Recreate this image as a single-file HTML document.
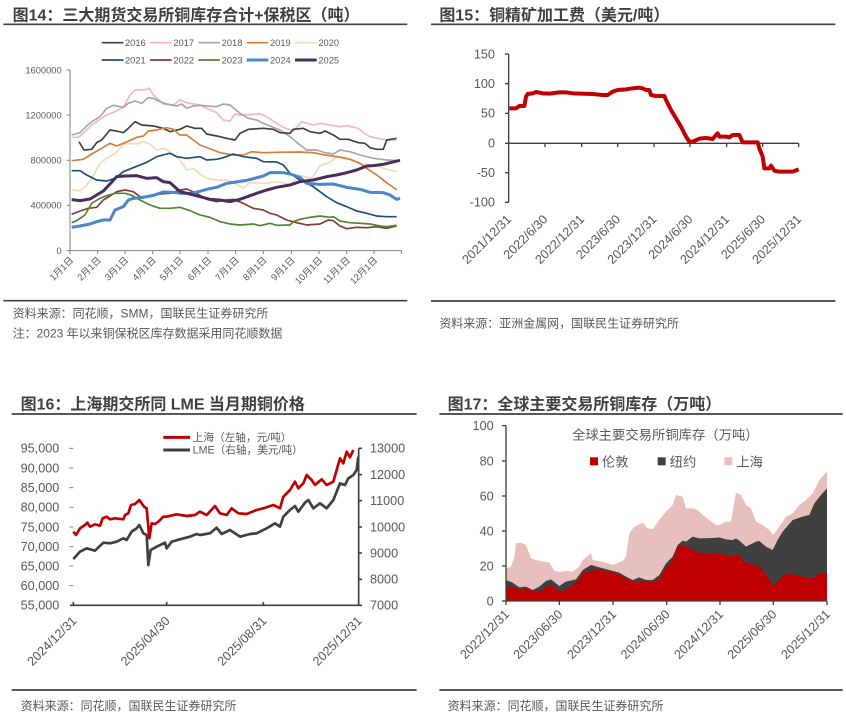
<!DOCTYPE html>
<html><head><meta charset="utf-8"><style>
html,body{margin:0;padding:0;background:#fff;}
svg{display:block;font-family:"Liberation Sans","Noto Sans CJK SC",sans-serif;}
.t{font-size:48px;font-weight:bold;fill:#404040;}
.s{font-size:36px;fill:#595959;}
.a{font-size:28px;fill:#595959;}
.b{font-size:38px;fill:#595959;}
</style></head><body>
<svg width="846" height="717" viewBox="0 0 846 717" xmlns="http://www.w3.org/2000/svg">
<!-- Panel 1 -->
<g transform="scale(0.33333)">
<text class="t" x="38" y="62">图14：三大期货交易所铜库存合计+保税区（吨）</text>
<line x1="10" y1="73" x2="1222" y2="73" stroke="#404040" stroke-width="5"/>
<g class="a" font-size="28">
<line x1="305" y1="128" x2="370" y2="128" stroke="#404040" stroke-width="5"/><text x="375" y="138" class="a">2016</text>
<line x1="450" y1="128" x2="515" y2="128" stroke="#f2b8c6" stroke-width="5"/><text x="520" y="138" class="a">2017</text>
<line x1="595" y1="128" x2="660" y2="128" stroke="#a6a6a6" stroke-width="5"/><text x="665" y="138" class="a">2018</text>
<line x1="740" y1="128" x2="805" y2="128" stroke="#d97b3a" stroke-width="5"/><text x="810" y="138" class="a">2019</text>
<line x1="885" y1="128" x2="950" y2="128" stroke="#f4d9b5" stroke-width="5"/><text x="955" y="138" class="a">2020</text>
<line x1="305" y1="180" x2="370" y2="180" stroke="#1f4e79" stroke-width="5"/><text x="375" y="190" class="a">2021</text>
<line x1="450" y1="180" x2="515" y2="180" stroke="#843c39" stroke-width="5"/><text x="520" y="190" class="a">2022</text>
<line x1="595" y1="180" x2="660" y2="180" stroke="#548235" stroke-width="5"/><text x="665" y="190" class="a">2023</text>
<line x1="740" y1="180" x2="805" y2="180" stroke="#4a86c8" stroke-width="9"/><text x="810" y="190" class="a">2024</text>
<line x1="885" y1="180" x2="950" y2="180" stroke="#4b2c5e" stroke-width="9"/><text x="955" y="190" class="a">2025</text>
</g>
<g class="a" text-anchor="end">
<text x="185" y="220">1600000</text><text x="185" y="355">1200000</text><text x="185" y="491">800000</text><text x="185" y="626">400000</text><text x="185" y="762">0</text>
</g>
<g stroke="#808080" stroke-width="3">
<line x1="210" y1="210" x2="210" y2="752"/><line x1="210" y1="752" x2="1205" y2="752"/>
<line x1="200" y1="210" x2="210" y2="210"/><line x1="200" y1="345" x2="210" y2="345"/><line x1="200" y1="481" x2="210" y2="481"/><line x1="200" y1="616" x2="210" y2="616"/><line x1="200" y1="752" x2="210" y2="752"/>
<line x1="210" y1="752" x2="210" y2="762"/><line x1="293" y1="752" x2="293" y2="762"/><line x1="375" y1="752" x2="375" y2="762"/><line x1="458" y1="752" x2="458" y2="762"/><line x1="540" y1="752" x2="540" y2="762"/><line x1="624" y1="752" x2="624" y2="762"/><line x1="707" y1="752" x2="707" y2="762"/><line x1="790" y1="752" x2="790" y2="762"/><line x1="874" y1="752" x2="874" y2="762"/><line x1="957" y1="752" x2="957" y2="762"/><line x1="1040" y1="752" x2="1040" y2="762"/><line x1="1122" y1="752" x2="1122" y2="762"/><line x1="1205" y1="752" x2="1205" y2="762"/>
</g>
<g class="a" text-anchor="end">
<text transform="translate(222,782) rotate(-45)">1月1日</text>
<text transform="translate(305,782) rotate(-45)">2月1日</text>
<text transform="translate(387,782) rotate(-45)">3月1日</text>
<text transform="translate(470,782) rotate(-45)">4月1日</text>
<text transform="translate(552,782) rotate(-45)">5月1日</text>
<text transform="translate(636,782) rotate(-45)">6月1日</text>
<text transform="translate(719,782) rotate(-45)">7月1日</text>
<text transform="translate(802,782) rotate(-45)">8月1日</text>
<text transform="translate(886,782) rotate(-45)">9月1日</text>
<text transform="translate(969,782) rotate(-45)">10月1日</text>
<text transform="translate(1052,782) rotate(-45)">11月1日</text>
<text transform="translate(1134,782) rotate(-45)">12月1日</text>
</g>
<g fill="none" stroke-linejoin="round" stroke-width="5">
<polyline stroke="#f4d9b5" points="215,570 240,572 255,562 275,535 300,490 320,475 345,460 375,430 410,432 430,425 450,432 470,450 490,445 510,455 540,480 560,510 580,505 600,522 620,535 650,540 680,540 705,550 730,565 750,548 800,550 830,545 870,553 900,527 935,535 960,497 990,487 1010,470 1040,472 1060,482 1090,492 1130,498 1160,508 1190,515"/>
<polyline stroke="#f2b8c6" points="215,412 235,412 250,400 275,375 300,358 320,345 345,335 370,322 390,285 405,270 420,270 440,268 448,264 460,285 490,312 520,315 540,300 560,308 580,312 600,315 620,325 650,338 670,360 690,363 705,342 720,345 780,342 800,350 830,370 850,382 880,393 905,365 940,375 960,370 990,375 1020,380 1040,377 1075,385 1090,398 1110,410 1160,420 1190,420"/>
<polyline stroke="#a6a6a6" points="215,405 240,398 260,378 275,365 300,350 320,325 340,316 370,322 385,310 405,303 425,310 445,293 460,295 480,305 500,312 530,318 545,312 560,325 580,318 600,316 620,318 650,320 670,312 690,315 720,340 745,355 770,360 790,370 810,378 840,390 870,410 900,435 920,450 950,450 975,458 1000,462 1020,450 1050,455 1080,465 1120,475 1160,480 1200,482"/>
<polyline stroke="#404040" points="237,425 252,450 275,448 290,428 305,420 330,390 350,393 370,398 385,385 405,365 425,375 460,378 490,385 510,395 540,388 560,378 585,385 605,385 620,402 650,408 680,415 705,420 720,400 745,388 790,385 820,388 840,398 870,400 880,388 910,385 930,395 960,400 975,393 1000,405 1020,418 1045,418 1075,428 1095,430 1110,443 1130,448 1150,448 1160,420 1190,415"/>
<polyline stroke="#d97b3a" points="215,482 250,478 270,465 300,448 330,430 350,438 375,428 410,412 430,408 445,393 470,390 500,383 520,388 540,405 560,405 600,435 640,450 660,458 700,465 730,465 755,455 790,458 830,457 900,456 940,458 970,464 1010,470 1050,478 1080,490 1100,505 1130,525 1160,548 1190,570"/>
<polyline stroke="#1f4e79" points="215,512 240,512 260,525 290,540 320,543 345,535 370,515 400,503 440,487 470,470 500,462 510,460 530,470 560,475 600,470 620,480 650,478 670,473 700,462 730,470 770,475 790,485 830,486 850,495 870,520 900,540 940,560 980,590 1010,608 1040,620 1070,633 1100,640 1130,648 1160,650 1190,650"/>
<polyline stroke="#843c39" points="215,643 240,633 265,625 290,622 310,600 330,588 350,575 375,570 400,575 420,590 450,590 480,582 510,580 540,570 560,567 590,580 620,598 650,605 680,600 700,598 730,610 760,625 790,630 810,640 830,645 860,660 890,668 920,675 960,672 985,660 1000,662 1020,678 1040,686 1070,682 1100,683 1130,680 1160,685 1190,678"/>
<polyline stroke="#548235" points="215,668 230,662 255,645 275,610 300,595 320,587 345,580 375,580 395,586 420,600 450,615 480,625 510,625 540,622 570,632 600,645 630,652 660,665 690,672 720,675 760,672 780,677 810,670 830,676 870,675 880,665 900,658 930,652 960,648 990,652 1000,650 1020,663 1050,668 1080,670 1110,672 1140,678 1160,680 1190,676"/>
<polyline stroke="#4a86c8" stroke-width="9" points="215,682 240,678 270,672 290,665 310,660 330,660 345,630 370,620 385,600 400,595 430,592 460,586 490,576 520,577 545,580 570,580 600,574 620,568 650,562 680,550 700,547 740,541 760,536 790,528 810,518 850,518 870,522 900,532 920,550 960,553 1000,552 1040,562 1080,568 1110,577 1150,578 1170,585 1190,598 1200,595"/>
<polyline stroke="#4b2c5e" stroke-width="9" points="215,599 240,602 270,597 290,585 310,573 330,552 350,530 375,528 410,527 440,535 470,533 490,545 510,548 540,575 570,582 600,590 630,598 660,600 690,605 720,598 750,587 770,580 800,570 830,562 870,555 900,545 940,540 980,530 1010,525 1040,518 1070,510 1100,498 1120,497 1150,493 1170,488 1200,481"/>
</g>
<line x1="10" y1="902" x2="1222" y2="902" stroke="#404040" stroke-width="5"/>
<text class="s" x="38" y="952">资料来源：同花顺，SMM，国联民生证券研究所</text>
<text class="s" x="38" y="1012">注：2023 年以来铜保税区库存数据采用同花顺数据</text>
</g>

<!-- Panel 2 -->
<g transform="translate(426,0) scale(0.33333)">
<text class="t" x="40" y="62">图15：铜精矿加工费（美元/吨）</text>
<line x1="15" y1="73" x2="1228" y2="73" stroke="#404040" stroke-width="5"/>
<g class="b" text-anchor="end">
<text x="207" y="175">150</text><text x="207" y="264">100</text><text x="207" y="353">50</text><text x="207" y="443">0</text><text x="207" y="531">-50</text><text x="207" y="620">-100</text>
</g>
<g stroke="#404040" stroke-width="4">
<line x1="248" y1="162" x2="248" y2="607"/>
<line x1="237" y1="162" x2="248" y2="162"/><line x1="237" y1="251" x2="248" y2="251"/><line x1="237" y1="340" x2="248" y2="340"/><line x1="237" y1="430" x2="248" y2="430"/><line x1="237" y1="518" x2="248" y2="518"/><line x1="237" y1="607" x2="248" y2="607"/>
<line x1="248" y1="430" x2="1118" y2="430"/>
<line x1="357" y1="430" x2="357" y2="441"/><line x1="467" y1="430" x2="467" y2="441"/><line x1="575" y1="430" x2="575" y2="441"/><line x1="684" y1="430" x2="684" y2="441"/><line x1="792" y1="430" x2="792" y2="441"/><line x1="902" y1="430" x2="902" y2="441"/><line x1="1010" y1="430" x2="1010" y2="441"/><line x1="1118" y1="430" x2="1118" y2="441"/>
</g>
<g class="b" text-anchor="end">
<text transform="translate(258,660) rotate(-45)">2021/12/31</text>
<text transform="translate(367,660) rotate(-45)">2022/6/30</text>
<text transform="translate(477,660) rotate(-45)">2022/12/31</text>
<text transform="translate(585,660) rotate(-45)">2023/6/30</text>
<text transform="translate(694,660) rotate(-45)">2023/12/31</text>
<text transform="translate(802,660) rotate(-45)">2024/6/30</text>
<text transform="translate(912,660) rotate(-45)">2024/12/31</text>
<text transform="translate(1020,660) rotate(-45)">2025/6/30</text>
<text transform="translate(1128,660) rotate(-45)">2025/12/31</text>
</g>
<polyline fill="none" stroke="#c00000" stroke-width="12" stroke-linejoin="round" points="250,325 270,325 280,318 295,318 300,290 305,282 320,280 330,276 350,280 370,281 400,277 420,277 440,280 500,282 530,285 545,285 560,275 575,270 600,268 620,265 640,263 650,265 660,270 670,270 675,285 690,288 715,288 720,300 735,330 750,355 765,380 780,410 790,425 800,425 820,416 840,414 860,417 870,405 875,400 880,410 900,410 910,412 920,405 940,405 950,427 995,427 1000,445 1010,470 1015,505 1030,505 1035,497 1045,512 1060,515 1100,515 1118,508"/>
<line x1="15" y1="903" x2="1228" y2="903" stroke="#404040" stroke-width="5"/>
<text class="s" x="40" y="982">资料来源：亚洲金属网，国联民生证券研究所</text>
</g>

<!-- Panel 3 -->
<g transform="translate(0,380) scale(0.33333)">
<text class="t" x="62" y="88">图16：上海期交所同 LME 当月期铜价格</text>
<line x1="35" y1="102" x2="1250" y2="102" stroke="#404040" stroke-width="5"/>
<line x1="490" y1="172" x2="570" y2="172" stroke="#c00000" stroke-width="9"/>
<text x="578" y="183" font-size="32" fill="#595959">上海（左轴，元/吨）</text>
<line x1="490" y1="210" x2="570" y2="210" stroke="#404040" stroke-width="9"/>
<text x="578" y="221" font-size="32" fill="#595959">LME（右轴，美元/吨）</text>
<g class="b" font-size="36" text-anchor="end">
<text x="178" y="218">95,000</text><text x="178" y="277">90,000</text><text x="178" y="336">85,000</text><text x="178" y="395">80,000</text><text x="178" y="454">75,000</text><text x="178" y="513">70,000</text><text x="178" y="571">65,000</text><text x="178" y="630">60,000</text><text x="178" y="689">55,000</text>
</g>
<g class="b" font-size="36">
<text x="1110" y="218">13000</text><text x="1110" y="297">12000</text><text x="1110" y="375">11000</text><text x="1110" y="454">10000</text><text x="1110" y="532">9000</text><text x="1110" y="611">8000</text><text x="1110" y="689">7000</text>
</g>
<g stroke="#808080" stroke-width="3">
<line x1="208" y1="205" x2="220" y2="205"/><line x1="208" y1="264" x2="220" y2="264"/><line x1="208" y1="323" x2="220" y2="323"/><line x1="208" y1="382" x2="220" y2="382"/><line x1="208" y1="441" x2="220" y2="441"/><line x1="208" y1="500" x2="220" y2="500"/><line x1="208" y1="558" x2="220" y2="558"/><line x1="208" y1="617" x2="220" y2="617"/>
</g>
<g stroke="#404040" stroke-width="5">
<line x1="210" y1="676" x2="1076" y2="676"/>
<line x1="1076" y1="205" x2="1076" y2="676"/>
<line x1="1076" y1="205" x2="1086" y2="205"/><line x1="1076" y1="284" x2="1086" y2="284"/><line x1="1076" y1="362" x2="1086" y2="362"/><line x1="1076" y1="441" x2="1086" y2="441"/><line x1="1076" y1="519" x2="1086" y2="519"/><line x1="1076" y1="598" x2="1086" y2="598"/><line x1="1076" y1="676" x2="1086" y2="676"/>
<line x1="220" y1="666" x2="220" y2="676"/><line x1="500" y1="666" x2="500" y2="676"/><line x1="790" y1="666" x2="790" y2="676"/>
</g>
<g class="b" font-size="36" text-anchor="end">
<text transform="translate(232,725) rotate(-45)">2024/12/31</text>
<text transform="translate(512,725) rotate(-45)">2025/04/30</text>
<text transform="translate(802,725) rotate(-45)">2025/08/31</text>
<text transform="translate(1088,725) rotate(-45)">2025/12/31</text>
</g>
<g fill="none" stroke-width="8" stroke-linejoin="round">
<polyline stroke="#c00000" points="220,455 228,465 240,445 255,435 262,428 270,440 285,433 300,437 308,415 320,410 330,418 345,415 370,418 375,405 385,400 393,375 405,372 418,360 425,370 432,380 440,385 448,475 455,430 465,432 475,425 490,410 500,410 530,403 560,408 585,405 600,395 620,405 645,378 660,400 680,405 695,385 715,400 740,402 770,390 790,385 820,375 840,385 850,350 870,330 885,305 895,325 910,310 920,285 935,300 945,315 965,298 980,315 1000,305 1010,270 1020,235 1030,250 1040,215 1050,232 1060,210"/>
<polyline stroke="#404040" points="220,537 240,515 260,505 285,512 310,488 330,490 350,485 370,475 380,480 395,455 410,445 418,435 430,460 440,465 445,555 452,510 470,500 495,488 500,505 515,485 540,478 570,470 590,462 600,465 630,460 650,443 665,462 690,450 720,470 750,462 770,460 800,445 825,430 840,440 850,410 870,390 885,378 895,395 915,368 925,360 940,385 960,370 980,385 1000,360 1020,310 1035,315 1045,295 1060,285 1070,270 1075,230"/>
</g>
<line x1="35" y1="930" x2="1250" y2="930" stroke="#404040" stroke-width="5"/>
<text class="s" x="62" y="990">资料来源：同花顺，国联民生证券研究所</text>
</g>

<!-- Panel 4 -->
<g transform="translate(426,380) scale(0.33333)">
<text class="t" x="65" y="88">图17：全球主要交易所铜库存（万吨）</text>
<line x1="40" y1="102" x2="1250" y2="102" stroke="#404040" stroke-width="5"/>
<polygon fill="#e8bfbf" points="240,663 240,565 255,560 265,533 270,490 285,488 300,495 315,535 340,543 370,548 385,573 400,576 420,573 440,575 460,560 470,540 495,520 500,540 540,548 560,555 590,543 600,530 610,460 625,440 650,428 665,445 680,447 700,420 720,395 740,375 750,345 770,350 780,385 800,385 815,390 830,405 850,420 870,435 880,435 900,425 915,425 930,338 945,345 960,375 975,385 990,425 1010,435 1030,450 1042,465 1060,440 1080,410 1100,400 1120,375 1140,360 1160,340 1180,300 1203,275 1203,663"/>
<polygon fill="#404040" points="240,663 240,600 260,608 280,622 300,620 320,630 340,620 360,603 375,598 400,618 420,605 450,598 470,570 495,555 520,562 550,570 580,578 600,590 620,600 640,592 660,600 680,600 700,585 720,550 740,530 755,495 770,482 780,485 800,470 820,475 860,474 880,472 900,478 920,480 930,475 940,482 960,500 990,485 1000,483 1020,500 1040,510 1055,480 1070,455 1100,420 1130,410 1150,405 1165,370 1185,345 1203,325 1203,663"/>
<polygon fill="#c00000" points="240,663 240,620 260,622 280,628 300,625 320,630 335,638 350,628 370,615 385,622 400,633 420,630 440,618 460,598 470,580 495,572 520,570 550,575 580,585 600,595 620,605 640,605 660,602 680,608 700,598 715,570 740,540 755,500 770,495 790,505 820,518 860,522 880,520 900,525 920,528 930,522 940,530 960,550 990,555 1010,570 1030,600 1042,618 1060,600 1075,583 1100,583 1130,590 1160,595 1180,578 1203,582 1203,663"/>
<text x="718" y="178" font-size="40" fill="#595959" text-anchor="middle">全球主要交易所铜库存（万吨）</text>
<rect x="492" y="232" width="24" height="24" fill="#c00000"/><text x="528" y="260" font-size="40" fill="#595959">伦敦</text>
<rect x="695" y="232" width="24" height="24" fill="#404040"/><text x="731" y="260" font-size="40" fill="#595959">纽约</text>
<rect x="895" y="232" width="24" height="24" fill="#e8bfbf"/><text x="931" y="260" font-size="40" fill="#595959">上海</text>
<g class="b" text-anchor="end">
<text x="203" y="150">100</text><text x="203" y="256">80</text><text x="203" y="361">60</text><text x="203" y="466">40</text><text x="203" y="571">20</text><text x="203" y="676">0</text>
</g>
<g stroke="#404040" stroke-width="4">
<line x1="240" y1="137" x2="240" y2="663"/>
<line x1="228" y1="137" x2="240" y2="137"/><line x1="228" y1="243" x2="240" y2="243"/><line x1="228" y1="348" x2="240" y2="348"/><line x1="228" y1="453" x2="240" y2="453"/><line x1="228" y1="558" x2="240" y2="558"/><line x1="228" y1="663" x2="240" y2="663"/>
<line x1="240" y1="663" x2="1203" y2="663"/>
<line x1="240" y1="663" x2="240" y2="675"/><line x1="400" y1="663" x2="400" y2="675"/><line x1="561" y1="663" x2="561" y2="675"/><line x1="722" y1="663" x2="722" y2="675"/><line x1="882" y1="663" x2="882" y2="675"/><line x1="1042" y1="663" x2="1042" y2="675"/><line x1="1203" y1="663" x2="1203" y2="675"/>
</g>
<g class="b" text-anchor="end">
<text transform="translate(252,705) rotate(-45)">2022/12/31</text>
<text transform="translate(412,705) rotate(-45)">2023/06/30</text>
<text transform="translate(573,705) rotate(-45)">2023/12/31</text>
<text transform="translate(734,705) rotate(-45)">2024/06/30</text>
<text transform="translate(894,705) rotate(-45)">2024/12/31</text>
<text transform="translate(1054,705) rotate(-45)">2025/06/30</text>
<text transform="translate(1215,705) rotate(-45)">2025/12/31</text>
</g>
<line x1="40" y1="930" x2="1250" y2="930" stroke="#404040" stroke-width="5"/>
<text class="s" x="65" y="990">资料来源：同花顺，国联民生证券研究所</text>
</g>
</svg>
</body></html>
